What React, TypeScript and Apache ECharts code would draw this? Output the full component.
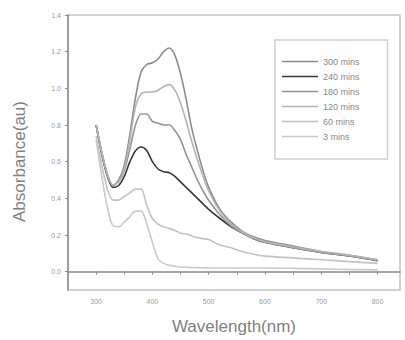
import React, { useEffect, useRef } from "react";
import * as echarts from "echarts";

const wavelengths = [300, 310, 320, 330, 340, 350, 360, 370, 380, 390, 400, 410, 420, 430, 440, 450, 460, 470, 480, 490, 500, 520, 540, 560, 580, 600, 650, 700, 750, 800];

const abs300 = [0.8, 0.65, 0.53, 0.47, 0.5, 0.58, 0.75, 0.95, 1.09, 1.13, 1.14, 1.16, 1.2, 1.22, 1.18, 1.08, 0.94, 0.78, 0.66, 0.55, 0.46, 0.34, 0.27, 0.22, 0.19, 0.17, 0.14, 0.11, 0.09, 0.065];
const abs120 = [0.8, 0.65, 0.53, 0.47, 0.49, 0.56, 0.72, 0.9, 0.97, 0.98, 0.98, 0.99, 1.01, 1.02, 0.99, 0.92, 0.82, 0.71, 0.61, 0.52, 0.44, 0.33, 0.26, 0.215, 0.185, 0.165, 0.135, 0.11, 0.09, 0.065];
const abs180 = [0.8, 0.65, 0.53, 0.47, 0.49, 0.55, 0.67, 0.8, 0.86, 0.86, 0.82, 0.81, 0.8, 0.8, 0.77, 0.72, 0.64, 0.57, 0.5, 0.44, 0.39, 0.31, 0.25, 0.21, 0.18, 0.16, 0.13, 0.105, 0.085, 0.06];
const abs240 = [0.8, 0.64, 0.52, 0.46, 0.47, 0.52, 0.6, 0.66, 0.68, 0.66, 0.6, 0.56, 0.545, 0.54, 0.52, 0.49, 0.46, 0.43, 0.4, 0.37, 0.34, 0.29, 0.245, 0.21, 0.18, 0.16, 0.13, 0.105, 0.085, 0.06];
const abs60 = [0.74, 0.58, 0.45, 0.39, 0.39, 0.41, 0.43, 0.45, 0.45, 0.36, 0.29, 0.26, 0.245, 0.235, 0.225, 0.21, 0.205, 0.195, 0.185, 0.18, 0.175, 0.145, 0.13, 0.11, 0.095, 0.085, 0.075, 0.065, 0.055, 0.045];
const abs3 = [0.72, 0.52, 0.35, 0.25, 0.245, 0.27, 0.3, 0.33, 0.33, 0.26, 0.16, 0.07, 0.045, 0.035, 0.03, 0.025, 0.024, 0.023, 0.022, 0.021, 0.02, 0.02, 0.02, 0.02, 0.02, 0.02, 0.018, 0.015, 0.012, 0.01];

const seriesNames = ["300 mins", "240 mins", "180 mins", "120 mins", "60 mins", "3 mins"];
const seriesValues = [abs300, abs240, abs180, abs120, abs60, abs3];
const seriesColors = ["#8c8c8c", "#3a3a3a", "#949494", "#b4b4b4", "#c2c2c2", "#cacaca"];

const yTicks = [0, 0.2, 0.4, 0.6, 0.8, 1.0, 1.2, 1.4];
const xLabels = [300, 400, 500, 600, 700, 800];
const xTicks = [300, 350, 400, 450, 500, 550, 600, 650, 700, 750, 800];

export default function App() {
  const ref = useRef<HTMLDivElement>(null);
  useEffect(() => {
    if (!ref.current) return;
    const chart = echarts.init(ref.current, null, { renderer: "svg" });
    const font = "Liberation Sans";
    chart.setOption({
      animation: false,
      backgroundColor: "#ffffff",
      grid: {
        left: 68,
        right: 5,
        top: 15,
        bottom: 48,
        show: true,
        borderColor: "#c4c4c4",
        borderWidth: 1.5,
      },
      legend: {
        orient: "vertical",
        left: 275,
        top: 40,
        padding: [16, 28, 17, 7],
        icon: "rect",
        itemWidth: 36,
        itemHeight: 1.5,
        itemGap: 4,
        borderColor: "#d0d0d0",
        borderWidth: 1.5,
        data: seriesNames,
        textStyle: { fontSize: 9, lineHeight: 11, color: "#888", fontFamily: font },
      },
      xAxis: {
        type: "value",
        min: 250,
        max: 840,
        name: "Wavelength(nm)",
        nameLocation: "middle",
        nameGap: 28,
        nameTextStyle: { fontSize: 17, color: "#808080", fontFamily: font },
        axisLine: { lineStyle: { color: "#8a8a8a", width: 1.5 } },
        axisTick: { show: true, length: 3, customValues: xTicks, lineStyle: { color: "#8a8a8a" } },
        axisLabel: { customValues: xLabels, fontSize: 7, color: "#9a9a9a", margin: 8, fontFamily: font },
        splitLine: { show: false },
      },
      yAxis: {
        type: "value",
        min: -0.1,
        max: 1.4,
        name: "Absorbance(au)",
        nameLocation: "middle",
        nameGap: 40,
        nameTextStyle: { fontSize: 17, color: "#808080", fontFamily: font, padding: [0, 18, 0, 0] },
        axisLine: { show: true, lineStyle: { color: "#8a8a8a", width: 1.5 } },
        axisTick: { show: true, length: 3, customValues: yTicks, lineStyle: { color: "#8a8a8a" } },
        axisLabel: {
          customValues: yTicks,
          fontSize: 7,
          color: "#9a9a9a",
          margin: 7,
          fontFamily: font,
          formatter: (v: number) => v.toFixed(1),
        },
        splitLine: { show: false },
      },
      series: seriesNames.map((name, i) => ({
        name,
        type: "line",
        symbol: "none",
        smooth: 0.3,
        color: seriesColors[i],
        lineStyle: { width: 1.6, color: seriesColors[i] },
        data: wavelengths.map((w, j) => [w, seriesValues[i][j]]),
      })),
    });
    return () => chart.dispose();
  }, []);
  return <div ref={ref} style={{ width: 405, height: 340, position: "absolute", left: 0, top: 0 }} />;
}
